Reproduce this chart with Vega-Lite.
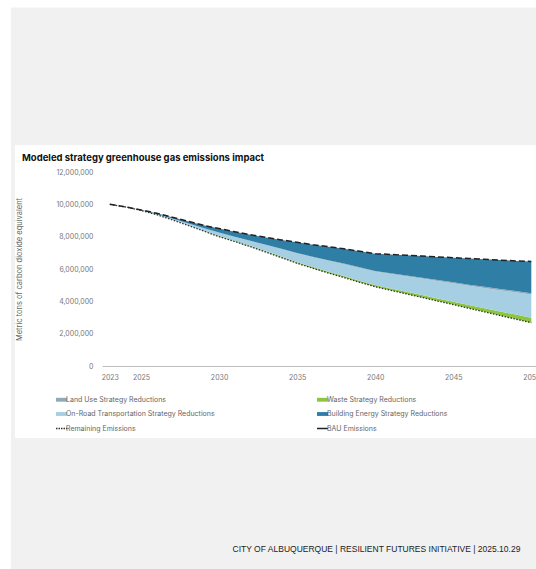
{
  "$schema": "https://vega.github.io/schema/vega-lite/v6.json",
  "width": 434,
  "height": 194,
  "autosize": {"type": "none"},
  "padding": {"left": 102, "top": 172, "right": 0, "bottom": 203},
  "background": "#ffffff",
  "config": {
    "view": {"stroke": null},
    "font": "Inter",
    "axisX": {"labelOverlap": false},
    "axisY": {"labelOverlap": false}
  },
  "title": {
    "text": "Modeled strategy greenhouse gas emissions impact",
    "anchor": "start",
    "frame": "group",
    "dx": -80,
    "offset": -160,
    "baseline": "middle",
    "font": "Inter",
    "fontSize": 9.5,
    "fontWeight": 700,
    "color": "#111111"
  },
  "datasets": {
    "emissions": [
      {"year": 2023, "BAU Emissions": 10000000, "Remaining Emissions": 10000000, "Waste Strategy Reductions": 0, "On-Road Transportation Strategy Reductions": 0, "Land Use Strategy Reductions": 0, "Building Energy Strategy Reductions": 0},
      {"year": 2024, "BAU Emissions": 9850000, "Remaining Emissions": 9840000, "Waste Strategy Reductions": 0, "On-Road Transportation Strategy Reductions": 5000, "Land Use Strategy Reductions": 0, "Building Energy Strategy Reductions": 5000},
      {"year": 2025, "BAU Emissions": 9650000, "Remaining Emissions": 9620000, "Waste Strategy Reductions": 2000, "On-Road Transportation Strategy Reductions": 14000, "Land Use Strategy Reductions": 1000, "Building Energy Strategy Reductions": 13000},
      {"year": 2026, "BAU Emissions": 9450000, "Remaining Emissions": 9360000, "Waste Strategy Reductions": 5000, "On-Road Transportation Strategy Reductions": 40000, "Land Use Strategy Reductions": 2000, "Building Energy Strategy Reductions": 43000},
      {"year": 2027, "BAU Emissions": 9200000, "Remaining Emissions": 9040000, "Waste Strategy Reductions": 8000, "On-Road Transportation Strategy Reductions": 70000, "Land Use Strategy Reductions": 4000, "Building Energy Strategy Reductions": 78000},
      {"year": 2028, "BAU Emissions": 8950000, "Remaining Emissions": 8700000, "Waste Strategy Reductions": 12000, "On-Road Transportation Strategy Reductions": 110000, "Land Use Strategy Reductions": 6000, "Building Energy Strategy Reductions": 122000},
      {"year": 2029, "BAU Emissions": 8700000, "Remaining Emissions": 8350000, "Waste Strategy Reductions": 17000, "On-Road Transportation Strategy Reductions": 155000, "Land Use Strategy Reductions": 8000, "Building Energy Strategy Reductions": 170000},
      {"year": 2030, "BAU Emissions": 8500000, "Remaining Emissions": 8000000, "Waste Strategy Reductions": 25000, "On-Road Transportation Strategy Reductions": 220000, "Land Use Strategy Reductions": 10000, "Building Energy Strategy Reductions": 245000},
      {"year": 2031, "BAU Emissions": 8300000, "Remaining Emissions": 7700000, "Waste Strategy Reductions": 30000, "On-Road Transportation Strategy Reductions": 260000, "Land Use Strategy Reductions": 12000, "Building Energy Strategy Reductions": 298000},
      {"year": 2032, "BAU Emissions": 8120000, "Remaining Emissions": 7380000, "Waste Strategy Reductions": 37000, "On-Road Transportation Strategy Reductions": 320000, "Land Use Strategy Reductions": 15000, "Building Energy Strategy Reductions": 368000},
      {"year": 2033, "BAU Emissions": 7950000, "Remaining Emissions": 7050000, "Waste Strategy Reductions": 45000, "On-Road Transportation Strategy Reductions": 390000, "Land Use Strategy Reductions": 18000, "Building Energy Strategy Reductions": 447000},
      {"year": 2034, "BAU Emissions": 7800000, "Remaining Emissions": 6700000, "Waste Strategy Reductions": 55000, "On-Road Transportation Strategy Reductions": 470000, "Land Use Strategy Reductions": 22000, "Building Energy Strategy Reductions": 553000},
      {"year": 2035, "BAU Emissions": 7650000, "Remaining Emissions": 6350000, "Waste Strategy Reductions": 65000, "On-Road Transportation Strategy Reductions": 550000, "Land Use Strategy Reductions": 26000, "Building Energy Strategy Reductions": 659000},
      {"year": 2036, "BAU Emissions": 7500000, "Remaining Emissions": 6050000, "Waste Strategy Reductions": 73000, "On-Road Transportation Strategy Reductions": 610000, "Land Use Strategy Reductions": 29000, "Building Energy Strategy Reductions": 738000},
      {"year": 2037, "BAU Emissions": 7380000, "Remaining Emissions": 5750000, "Waste Strategy Reductions": 82000, "On-Road Transportation Strategy Reductions": 680000, "Land Use Strategy Reductions": 33000, "Building Energy Strategy Reductions": 835000},
      {"year": 2038, "BAU Emissions": 7250000, "Remaining Emissions": 5470000, "Waste Strategy Reductions": 90000, "On-Road Transportation Strategy Reductions": 740000, "Land Use Strategy Reductions": 36000, "Building Energy Strategy Reductions": 914000},
      {"year": 2039, "BAU Emissions": 7100000, "Remaining Emissions": 5180000, "Waste Strategy Reductions": 96000, "On-Road Transportation Strategy Reductions": 790000, "Land Use Strategy Reductions": 38000, "Building Energy Strategy Reductions": 996000},
      {"year": 2040, "BAU Emissions": 6950000, "Remaining Emissions": 4900000, "Waste Strategy Reductions": 103000, "On-Road Transportation Strategy Reductions": 840000, "Land Use Strategy Reductions": 41000, "Building Energy Strategy Reductions": 1066000},
      {"year": 2041, "BAU Emissions": 6900000, "Remaining Emissions": 4680000, "Waste Strategy Reductions": 115000, "On-Road Transportation Strategy Reductions": 900000, "Land Use Strategy Reductions": 44000, "Building Energy Strategy Reductions": 1161000},
      {"year": 2042, "BAU Emissions": 6850000, "Remaining Emissions": 4460000, "Waste Strategy Reductions": 130000, "On-Road Transportation Strategy Reductions": 960000, "Land Use Strategy Reductions": 48000, "Building Energy Strategy Reductions": 1252000},
      {"year": 2043, "BAU Emissions": 6800000, "Remaining Emissions": 4240000, "Waste Strategy Reductions": 145000, "On-Road Transportation Strategy Reductions": 1020000, "Land Use Strategy Reductions": 51000, "Building Energy Strategy Reductions": 1344000},
      {"year": 2044, "BAU Emissions": 6750000, "Remaining Emissions": 4020000, "Waste Strategy Reductions": 160000, "On-Road Transportation Strategy Reductions": 1080000, "Land Use Strategy Reductions": 55000, "Building Energy Strategy Reductions": 1435000},
      {"year": 2045, "BAU Emissions": 6700000, "Remaining Emissions": 3800000, "Waste Strategy Reductions": 180000, "On-Road Transportation Strategy Reductions": 1140000, "Land Use Strategy Reductions": 58000, "Building Energy Strategy Reductions": 1522000},
      {"year": 2046, "BAU Emissions": 6650000, "Remaining Emissions": 3570000, "Waste Strategy Reductions": 200000, "On-Road Transportation Strategy Reductions": 1200000, "Land Use Strategy Reductions": 62000, "Building Energy Strategy Reductions": 1618000},
      {"year": 2047, "BAU Emissions": 6600000, "Remaining Emissions": 3350000, "Waste Strategy Reductions": 220000, "On-Road Transportation Strategy Reductions": 1260000, "Land Use Strategy Reductions": 65000, "Building Energy Strategy Reductions": 1705000},
      {"year": 2048, "BAU Emissions": 6550000, "Remaining Emissions": 3120000, "Waste Strategy Reductions": 250000, "On-Road Transportation Strategy Reductions": 1320000, "Land Use Strategy Reductions": 69000, "Building Energy Strategy Reductions": 1791000},
      {"year": 2049, "BAU Emissions": 6500000, "Remaining Emissions": 2900000, "Waste Strategy Reductions": 280000, "On-Road Transportation Strategy Reductions": 1380000, "Land Use Strategy Reductions": 72000, "Building Energy Strategy Reductions": 1868000},
      {"year": 2050, "BAU Emissions": 6470000, "Remaining Emissions": 2680000, "Waste Strategy Reductions": 310000, "On-Road Transportation Strategy Reductions": 1440000, "Land Use Strategy Reductions": 76000, "Building Energy Strategy Reductions": 1964000}
    ]
  },
  "data": {"name": "emissions"},
  "layer": [
    {
      "data": {"values": [{}]},
      "mark": {"type": "rect", "color": "#f1f1f1"},
      "encoding": {
        "x": {"datum": 2016.67, "type": "quantitative", "scale": {"domain": [2022.5, 2050.3], "nice": false, "zero": false},
          "axis": {"zindex": 2, "values": [2023, 2025, 2030, 2035, 2040, 2045, 2050], "labelExpr": "format(datum.value, 'd')", "labelOverlap": false, "title": null, "ticks": false, "grid": false, "domainColor": "#bdbdbd", "domainWidth": 1, "labelFontSize": 7, "labelColor": "#777777", "labelPadding": 7, "labelFlush": false, "labelFont": "Inter"}},
        "x2": {"datum": 2052},
        "y": {"datum": 22180000, "type": "quantitative", "scale": {"domain": [0, 12000000], "nice": false, "zero": false},
          "axis": {"zindex": 2, "values": [0, 2000000, 4000000, 6000000, 8000000, 10000000, 12000000], "labelExpr": "format(datum.value, ',')", "labelOverlap": false, "title": "Metric tons of carbon dioxide equivalent", "ticks": false, "domain": false, "grid": false, "labelFontSize": 7, "labelColor": "#777777", "labelFont": "Inter", "labelPadding": 9, "titleFont": "Inter", "titleFontSize": 7.5, "titleFontWeight": "normal", "titleColor": "#666666", "titleX": -79, "titleY": 97, "titleAngle": -90}},
        "y2": {"datum": -13500000}
      }
    },
    {
      "data": {"values": [{}]},
      "mark": {"type": "rect", "color": "#ffffff"},
      "encoding": {
        "x": {"datum": 2016.92, "type": "quantitative", "scale": {"domain": [2022.5, 2050.3], "nice": false, "zero": false},
          "axis": {"zindex": 2, "values": [2023, 2025, 2030, 2035, 2040, 2045, 2050], "labelExpr": "format(datum.value, 'd')", "labelOverlap": false, "title": null, "ticks": false, "grid": false, "domainColor": "#bdbdbd", "domainWidth": 1, "labelFontSize": 7, "labelColor": "#777777", "labelPadding": 7, "labelFlush": false, "labelFont": "Inter"}},
        "x2": {"datum": 2052},
        "y": {"datum": 13670000, "type": "quantitative", "scale": {"domain": [0, 12000000], "nice": false, "zero": false},
          "axis": {"zindex": 2, "values": [0, 2000000, 4000000, 6000000, 8000000, 10000000, 12000000], "labelExpr": "format(datum.value, ',')", "labelOverlap": false, "title": "Metric tons of carbon dioxide equivalent", "ticks": false, "domain": false, "grid": false, "labelFontSize": 7, "labelColor": "#777777", "labelFont": "Inter", "labelPadding": 9, "titleFont": "Inter", "titleFontSize": 7.5, "titleFontWeight": "normal", "titleColor": "#666666", "titleX": -79, "titleY": 97, "titleAngle": -90}},
        "y2": {"datum": -4450000}
      }
    },
    {
      "transform": [
        {"fold": ["Remaining Emissions", "Waste Strategy Reductions", "On-Road Transportation Strategy Reductions", "Land Use Strategy Reductions", "Building Energy Strategy Reductions"], "as": ["series", "value"]},
        {"calculate": "indexof(['Remaining Emissions','Waste Strategy Reductions','On-Road Transportation Strategy Reductions','Land Use Strategy Reductions','Building Energy Strategy Reductions'], datum.series)", "as": "stackOrder"}
      ],
      "mark": {"type": "area", "strokeWidth": 0},
      "encoding": {
        "x": {
          "field": "year", "type": "quantitative",
          "scale": {"domain": [2022.5, 2050.3], "nice": false, "zero": false},
          "axis": {"zindex": 2, "values": [2023, 2025, 2030, 2035, 2040, 2045, 2050], "labelExpr": "format(datum.value, 'd')", "labelOverlap": false, "title": null, "ticks": false, "grid": false, "domainColor": "#bdbdbd", "domainWidth": 1, "labelFontSize": 7, "labelColor": "#777777", "labelPadding": 7, "labelFlush": false, "labelFont": "Inter"}
        },
        "y": {
          "field": "value", "type": "quantitative", "stack": "zero",
          "scale": {"domain": [0, 12000000], "nice": false, "zero": false},
          "axis": {"zindex": 2, "values": [0, 2000000, 4000000, 6000000, 8000000, 10000000, 12000000], "labelExpr": "format(datum.value, ',')", "labelOverlap": false, "title": "Metric tons of carbon dioxide equivalent", "ticks": false, "domain": false, "grid": false, "labelFontSize": 7, "labelColor": "#777777", "labelFont": "Inter", "labelPadding": 9, "titleFont": "Inter", "titleFontSize": 7.5, "titleFontWeight": "normal", "titleColor": "#666666", "titleX": -79, "titleY": 97, "titleAngle": -90}
        },
        "order": {"field": "stackOrder", "type": "quantitative"},
        "color": {
          "field": "series", "type": "nominal",
          "scale": {
            "domain": ["Land Use Strategy Reductions", "Waste Strategy Reductions", "On-Road Transportation Strategy Reductions", "Building Energy Strategy Reductions", "Remaining Emissions", "BAU Emissions"],
            "range": ["#8fa9b8", "#8cc63f", "#a6cfe3", "#2f7ea5", "#333333", "#222222"]
          },
          "legend": {
            "title": null, "orient": "none", "legendX": -44, "legendY": 224, "direction": "horizontal",
            "columns": 2, "columnPadding": 99, "rowPadding": 6.5, "symbolSize": 121,
            "labelFontSize": 7, "labelColor": "#666666", "labelFont": "Inter", "labelOffset": 1, "labelLimit": 300, "padding": 0,
            "encode": {
              "symbols": {
                "update": {
                  "shape": {"signal": "datum.value === 'Remaining Emissions' || datum.value === 'BAU Emissions' ? 'stroke' : 'M-1,-0.35H1V0.35H-1Z'"},
                  "fill": {"signal": "datum.value === 'Remaining Emissions' || datum.value === 'BAU Emissions' ? 'transparent' : scale('color', datum.value)"},
                  "stroke": {"signal": "scale('color', datum.value)"},
                  "strokeWidth": {"signal": "datum.value === 'Remaining Emissions' || datum.value === 'BAU Emissions' ? 1.5 : 0"},
                  "strokeDash": {"signal": "datum.value === 'Remaining Emissions' ? [1.5, 1] : []"},
                  "opacity": {"value": 1}
                }
              }
            }
          }
        },
        "opacity": {"condition": {"test": "datum.series === 'Remaining Emissions'", "value": 0}, "value": 1}
      }
    },
    {
      "transform": [{"fold": ["Remaining Emissions"], "as": ["series", "value"]}],
      "mark": {"type": "line", "strokeDash": [1.5, 1.5], "strokeWidth": 1.3},
      "encoding": {
        "x": {"field": "year", "type": "quantitative", "scale": {"domain": [2022.5, 2050.3], "nice": false, "zero": false},
          "axis": {"zindex": 2, "values": [2023, 2025, 2030, 2035, 2040, 2045, 2050], "labelExpr": "format(datum.value, 'd')", "labelOverlap": false, "title": null, "ticks": false, "grid": false, "domainColor": "#bdbdbd", "domainWidth": 1, "labelFontSize": 7, "labelColor": "#777777", "labelPadding": 7, "labelFlush": false, "labelFont": "Inter"}},
        "y": {"field": "value", "type": "quantitative", "stack": null, "scale": {"domain": [0, 12000000], "nice": false, "zero": false},
          "axis": {"zindex": 2, "values": [0, 2000000, 4000000, 6000000, 8000000, 10000000, 12000000], "labelExpr": "format(datum.value, ',')", "labelOverlap": false, "title": "Metric tons of carbon dioxide equivalent", "ticks": false, "domain": false, "grid": false, "labelFontSize": 7, "labelColor": "#777777", "labelFont": "Inter", "labelPadding": 9, "titleFont": "Inter", "titleFontSize": 7.5, "titleFontWeight": "normal", "titleColor": "#666666", "titleX": -79, "titleY": 97, "titleAngle": -90}},
        "color": {
          "field": "series", "type": "nominal",
          "legend": {
            "title": null, "orient": "none", "legendX": -44, "legendY": 224, "direction": "horizontal",
            "columns": 2, "columnPadding": 99, "rowPadding": 6.5, "symbolSize": 121,
            "labelFontSize": 7, "labelColor": "#666666", "labelFont": "Inter", "labelOffset": 1, "labelLimit": 300, "padding": 0,
            "encode": {
              "symbols": {
                "update": {
                  "shape": {"signal": "datum.value === 'Remaining Emissions' || datum.value === 'BAU Emissions' ? 'stroke' : 'M-1,-0.35H1V0.35H-1Z'"},
                  "fill": {"signal": "datum.value === 'Remaining Emissions' || datum.value === 'BAU Emissions' ? 'transparent' : scale('color', datum.value)"},
                  "stroke": {"signal": "scale('color', datum.value)"},
                  "strokeWidth": {"signal": "datum.value === 'Remaining Emissions' || datum.value === 'BAU Emissions' ? 1.5 : 0"},
                  "strokeDash": {"signal": "datum.value === 'Remaining Emissions' ? [1.5, 1] : []"},
                  "opacity": {"value": 1}
                }
              }
            }
          }
        }
      }
    },
    {
      "transform": [{"fold": ["BAU Emissions"], "as": ["series", "value"]}],
      "mark": {"type": "line", "strokeDash": [6, 3], "strokeWidth": 1.5},
      "encoding": {
        "x": {"field": "year", "type": "quantitative", "scale": {"domain": [2022.5, 2050.3], "nice": false, "zero": false},
          "axis": {"zindex": 2, "values": [2023, 2025, 2030, 2035, 2040, 2045, 2050], "labelExpr": "format(datum.value, 'd')", "labelOverlap": false, "title": null, "ticks": false, "grid": false, "domainColor": "#bdbdbd", "domainWidth": 1, "labelFontSize": 7, "labelColor": "#777777", "labelPadding": 7, "labelFlush": false, "labelFont": "Inter"}},
        "y": {"field": "value", "type": "quantitative", "stack": null, "scale": {"domain": [0, 12000000], "nice": false, "zero": false},
          "axis": {"zindex": 2, "values": [0, 2000000, 4000000, 6000000, 8000000, 10000000, 12000000], "labelExpr": "format(datum.value, ',')", "labelOverlap": false, "title": "Metric tons of carbon dioxide equivalent", "ticks": false, "domain": false, "grid": false, "labelFontSize": 7, "labelColor": "#777777", "labelFont": "Inter", "labelPadding": 9, "titleFont": "Inter", "titleFontSize": 7.5, "titleFontWeight": "normal", "titleColor": "#666666", "titleX": -79, "titleY": 97, "titleAngle": -90}},
        "color": {
          "field": "series", "type": "nominal",
          "legend": {
            "title": null, "orient": "none", "legendX": -44, "legendY": 224, "direction": "horizontal",
            "columns": 2, "columnPadding": 99, "rowPadding": 6.5, "symbolSize": 121,
            "labelFontSize": 7, "labelColor": "#666666", "labelFont": "Inter", "labelOffset": 1, "labelLimit": 300, "padding": 0,
            "encode": {
              "symbols": {
                "update": {
                  "shape": {"signal": "datum.value === 'Remaining Emissions' || datum.value === 'BAU Emissions' ? 'stroke' : 'M-1,-0.35H1V0.35H-1Z'"},
                  "fill": {"signal": "datum.value === 'Remaining Emissions' || datum.value === 'BAU Emissions' ? 'transparent' : scale('color', datum.value)"},
                  "stroke": {"signal": "scale('color', datum.value)"},
                  "strokeWidth": {"signal": "datum.value === 'Remaining Emissions' || datum.value === 'BAU Emissions' ? 1.5 : 0"},
                  "strokeDash": {"signal": "datum.value === 'Remaining Emissions' ? [1.5, 1] : []"},
                  "opacity": {"value": 1}
                }
              }
            }
          }
        }
      }
    },
    {
      "data": {"values": [{}]},
      "mark": {"type": "text", "align": "right", "baseline": "middle", "font": "Liberation Sans", "fontSize": 8.5, "color": "#222222", "text": "CITY OF ALBUQUERQUE | RESILIENT FUTURES INITIATIVE | 2025.10.29"},
      "encoding": {
        "x": {"datum": 2049.3, "type": "quantitative", "scale": {"domain": [2022.5, 2050.3], "nice": false, "zero": false},
          "axis": {"zindex": 2, "values": [2023, 2025, 2030, 2035, 2040, 2045, 2050], "labelExpr": "format(datum.value, 'd')", "labelOverlap": false, "title": null, "ticks": false, "grid": false, "domainColor": "#bdbdbd", "domainWidth": 1, "labelFontSize": 7, "labelColor": "#777777", "labelPadding": 7, "labelFlush": false, "labelFont": "Inter"}},
        "y": {"datum": -11320000, "type": "quantitative", "scale": {"domain": [0, 12000000], "nice": false, "zero": false},
          "axis": {"zindex": 2, "values": [0, 2000000, 4000000, 6000000, 8000000, 10000000, 12000000], "labelExpr": "format(datum.value, ',')", "labelOverlap": false, "title": "Metric tons of carbon dioxide equivalent", "ticks": false, "domain": false, "grid": false, "labelFontSize": 7, "labelColor": "#777777", "labelFont": "Inter", "labelPadding": 9, "titleFont": "Inter", "titleFontSize": 7.5, "titleFontWeight": "normal", "titleColor": "#666666", "titleX": -79, "titleY": 97, "titleAngle": -90}}
      }
    }
  ]
}
